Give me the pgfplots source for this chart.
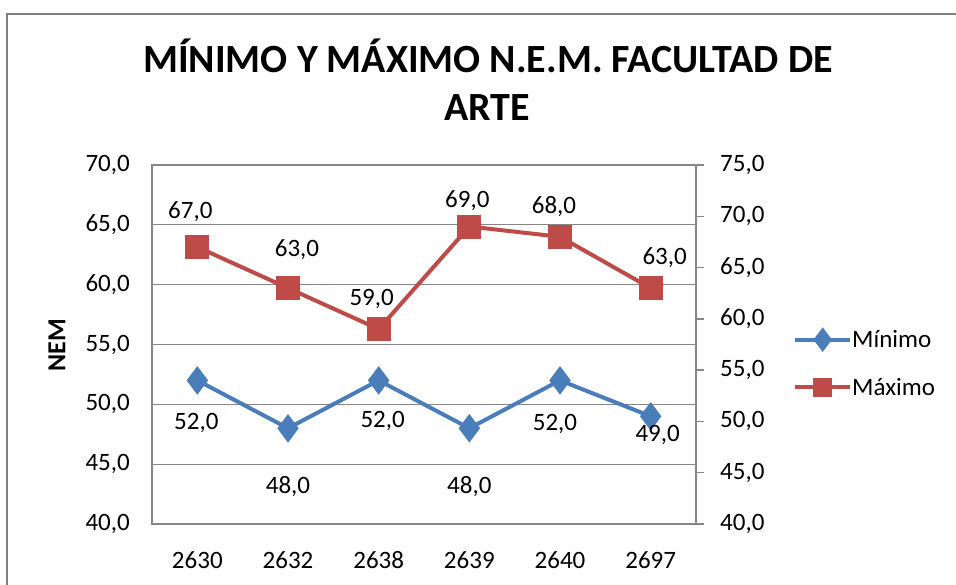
\documentclass[border=0pt]{standalone}
\usepackage{fontspec}
\setmainfont{Carlito}
\usepackage{pgfplots}
\usepackage{pgfplotstable}
\pgfplotsset{compat=1.18}
\pgfkeys{/pgf/number format/.cd, fixed, fixed zerofill, precision=1, use comma, assume math mode=true}

\definecolor{serieblue}{RGB}{74,126,187}
\definecolor{seriered}{RGB}{190,75,72}
\definecolor{axgray}{RGB}{134,134,134}
\definecolor{framegray}{RGB}{128,128,128}

% x = category index, dx/dy = label offset from the point (pt)
\pgfplotstableread{
x y dx dy
0 52 -1 -43
1 48 0 -58
2 52 4 -41
3 48 0 -58
4 52 -5 -44
5 49 7 -19
}\minimo

\pgfplotstableread{
x y dx dy
0 67 -7 35
1 63 9 38
2 59 -7 30
3 69 -2 26
4 68 -6 30
5 63 14 30
}\maximo

\pgfplotsset{
  lbl/.style={
    nodes near coords,
    visualization depends on={\thisrow{dx} \as \dx},
    visualization depends on={\thisrow{dy} \as \dy},
    nodes near coords style={font=\fontsize{25}{29}\selectfont, text=black,
      anchor=center, inner sep=0pt, xshift=\dx pt, yshift=\dy pt},
  },
  legend image code/.code={
    \draw[mark repeat=2, mark phase=2, #1]
      plot coordinates {(0pt,0pt) (27.5pt,0pt) (55pt,0pt)};
  },
}

\begin{document}
\begin{tikzpicture}
  \draw[framegray, line width=2pt] (7pt,0pt) -- (7pt,571pt) -- (956pt,571pt);

  \node[anchor=base, font=\fontsize{40}{46}\selectfont\bfseries] at (488pt,512pt)
    {MÍNIMO Y MÁXIMO N.E.M. FACULTAD DE};
  \node[anchor=base, font=\fontsize{40}{46}\selectfont\bfseries] at (487pt,464pt)
    {ARTE};
  \node[rotate=90, font=\fontsize{26}{30}\selectfont\bfseries] at (57pt,240pt) {NEM};

  \begin{axis}[
    at={(152pt,61pt)}, anchor=south west,
    scale only axis, width=544pt, height=359pt,
    xmin=-0.5, xmax=5.5, ymin=40, ymax=70,
    xtick={0,...,5},
    xticklabels={2630,2632,2638,2639,2640,2697},
    ytick={40,45,...,70},
    ytick pos=left,
    major tick length=0pt,
    axis line style={draw=axgray, line width=1.3pt},
    ymajorgrids, grid style={axgray, line width=1.3pt},
    tick label style={font=\fontsize{25}{29}\selectfont, inner sep=0pt},
    yticklabel style={xshift=-22pt},
    xticklabel style={yshift=-27pt},
    clip=false,
  ]
    \addplot[serieblue, line width=4pt, mark=diamond*, mark size=11pt,
      mark options={solid}, lbl] table[x=x, y=y] {\minimo};
  \end{axis}

  \begin{axis}[
    at={(152pt,61pt)}, anchor=south west,
    scale only axis, width=544pt, height=359pt,
    xmin=-0.5, xmax=5.5, ymin=40, ymax=75,
    axis x line=none, axis y line*=right,
    ytick={40,45,...,75},
    tick align=outside, major tick length=8pt,
    axis line style={-, draw=axgray, line width=1.3pt},
    tick style={axgray, line width=1.3pt},
    tick label style={font=\fontsize{25}{29}\selectfont, inner sep=0pt},
    yticklabel style={xshift=16pt},
    clip=false,
    legend style={at={(1,0.447)}, anchor=west, xshift=97pt, draw=none, fill=none,
      font=\fontsize{25}{29}\selectfont, row sep=29pt, inner sep=0pt,
      nodes={inner sep=0pt, xshift=7pt}},
    legend cell align=left,
  ]
    \addplot[seriered, line width=4pt, mark=square*, mark size=10pt, lbl, forget plot]
      table[x=x, y=y] {\maximo};
    \addlegendimage{serieblue, line width=4pt, mark=diamond*, mark size=9pt}
    \addlegendentry{Mínimo}
    \addlegendimage{seriered, line width=4pt, mark=square*, mark size=7.5pt}
    \addlegendentry{Máximo}
  \end{axis}

  \pgfresetboundingbox
  \useasboundingbox (0pt,0pt) rectangle (956pt,585pt);
\end{tikzpicture}
\end{document}
